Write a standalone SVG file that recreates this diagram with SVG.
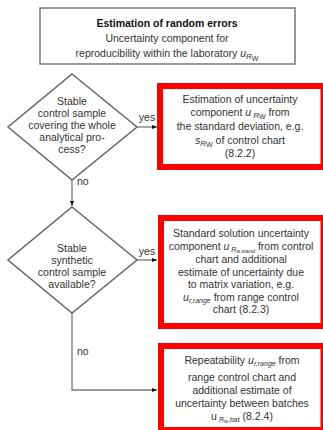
<svg xmlns="http://www.w3.org/2000/svg" width="323" height="430" viewBox="0 0 323 430">
<style>
  text { font-family: "Liberation Sans", Arial, sans-serif; font-size: 10.5px; fill: #333; }
  .c { text-anchor: middle; }
  .b { font-weight: bold; fill: #111; }
  .i { font-style: italic; }
  .box { fill: #fff; stroke: #777; stroke-width: 1.5; }
  .dia { fill: #fff; stroke: #666; stroke-width: 1.5; }
  .red { fill: #fff; stroke: #ff0000; stroke-width: 6; }
  .conn { fill: none; stroke: #777; stroke-width: 1.3; }
</style>
<defs>
  <marker id="ah" viewBox="0 0 10 10" refX="10" refY="5" markerWidth="5" markerHeight="5" orient="auto" markerUnits="userSpaceOnUse">
    <path d="M0,1 L10,5 L0,9 z" fill="#111"/>
  </marker>
</defs>
<rect width="323" height="430" fill="#fff"/>

<g id="connectors">
  <line class="conn" x1="137" y1="127" x2="157" y2="127" marker-end="url(#ah)"/>
  <line class="conn" x1="72" y1="180" x2="72" y2="206" marker-end="url(#ah)"/>
  <line class="conn" x1="137" y1="260" x2="157" y2="260" marker-end="url(#ah)"/>
  <path class="conn" d="M72,313 V390 H157" marker-end="url(#ah)"/>
  <text x="147" y="121" class="c">yes</text>
  <text x="77" y="185">no</text>
  <text x="147" y="255" class="c">yes</text>
  <text x="77" y="355">no</text>
</g>

<g id="start">
  <rect class="box" x="40" y="8" width="255" height="56"/>
  <text x="167" y="27" class="c b">Estimation of random errors</text>
  <text x="167" y="42" class="c">Uncertainty component for</text>
  <text x="167" y="57" class="c">reproducibility within the laboratory <tspan class="i">u</tspan><tspan class="i" font-size="8" dy="2">R</tspan><tspan font-size="7" dy="2">W</tspan></text>
</g>

<g id="decision1">
  <polygon class="dia" points="72,74 137,127 72,180 8,127"/>
  <text x="72" y="105" class="c">Stable</text>
  <text x="72" y="117" class="c">control sample</text>
  <text x="72" y="129" class="c">covering the whole</text>
  <text x="72" y="141" class="c">analytical pro-</text>
  <text x="72" y="153" class="c">cess?</text>
</g>

<g id="result1">
  <rect class="red" x="160" y="86" width="163.5" height="81"/>
  <text x="240" y="103" class="c">Estimation of uncertainty</text>
  <text x="240" y="116" class="c">component <tspan class="i">u</tspan><tspan class="i" font-size="8" dy="2"> R</tspan><tspan font-size="7" dy="1">W</tspan><tspan dy="-3"> from</tspan></text>
  <text x="240" y="130" class="c">the standard deviation, e.g.</text>
  <text x="240" y="144" class="c"><tspan class="i">s</tspan><tspan class="i" font-size="8" dy="2">R</tspan><tspan font-size="7" dy="1">W</tspan><tspan dy="-3"> of control chart</tspan></text>
  <text x="240" y="157" class="c">(8.2.2)</text>
</g>

<g id="decision2">
  <polygon class="dia" points="72,207 137,260 72,313 8,260"/>
  <text x="72" y="252" class="c">Stable</text>
  <text x="72" y="264" class="c">synthetic</text>
  <text x="72" y="276" class="c">control sample</text>
  <text x="72" y="288" class="c">available?</text>
</g>

<g id="result2">
  <rect class="red" x="161" y="218" width="162.5" height="108"/>
  <text x="241" y="237" class="c">Standard solution uncertainty</text>
  <text x="241" y="250" class="c">component <tspan class="i">u</tspan><tspan class="i" font-size="7" dy="2"> R</tspan><tspan font-size="5.5" dy="1">w,stand</tspan><tspan dy="-3"> from control</tspan></text>
  <text x="241" y="263" class="c">chart and additional</text>
  <text x="241" y="276" class="c">estimate of uncertainty due</text>
  <text x="241" y="288" class="c">to matrix variation, e.g.</text>
  <text x="241" y="301" class="c"><tspan class="i">u</tspan><tspan class="i" font-size="7" dy="2">r,range</tspan><tspan dy="-2"> from range control</tspan></text>
  <text x="241" y="313" class="c">chart (8.2.3)</text>
</g>

<g id="result3">
  <rect class="red" x="161" y="346" width="162.5" height="84"/>
  <text x="242" y="364" class="c">Repeatability <tspan class="i">u</tspan><tspan class="i" font-size="7" dy="2">r,range</tspan><tspan dy="-2"> from</tspan></text>
  <text x="242" y="381" class="c">range control chart and</text>
  <text x="242" y="394" class="c">additional estimate of</text>
  <text x="242" y="407" class="c">uncertainty between batches</text>
  <text x="242" y="420" class="c">u<tspan class="i" font-size="7" dy="2"> R</tspan><tspan font-size="5.5" dy="1">w</tspan><tspan font-size="7" dy="-1">,bat</tspan><tspan dy="-2"> (8.2.4)</tspan></text>
</g>
</svg>
